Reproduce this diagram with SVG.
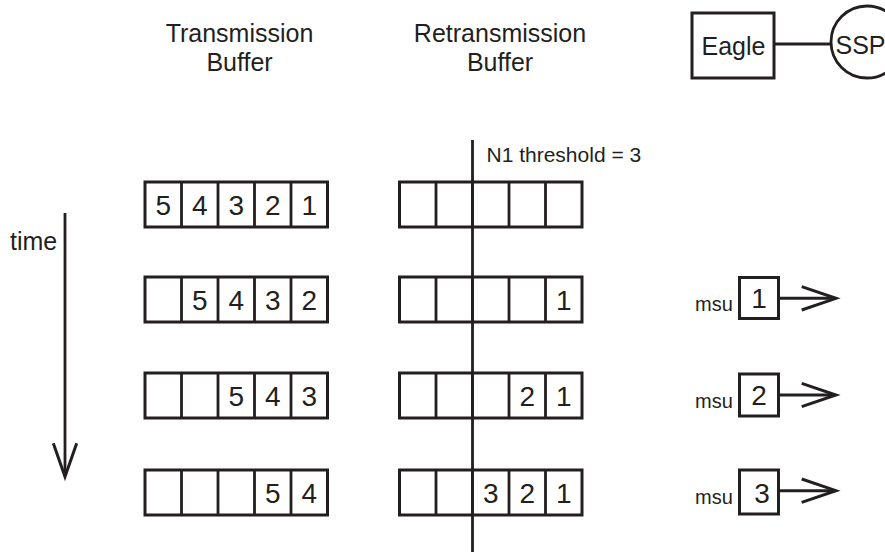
<svg xmlns="http://www.w3.org/2000/svg" width="885" height="552" viewBox="0 0 885 552">
<style>
text{font-family:"Liberation Sans",Arial,Helvetica,sans-serif;fill:#231f20}
.t{font-size:25px;text-anchor:middle}
.d{font-size:28px;text-anchor:middle}
.s{font-size:21px}
.m{font-size:20px}
.box{fill:#fff;stroke:#231f20;stroke-width:3}
.ln{fill:none;stroke:#231f20;stroke-width:2.8}
.ar{fill:none;stroke:#231f20;stroke-width:3;stroke-linejoin:miter}
</style>
<rect width="885" height="552" fill="#fff"/>
<defs>
<g id="buf">
<rect class="box" x="0" y="0" width="182.5" height="45"/>
<line class="ln" x1="36.5" y1="0" x2="36.5" y2="45"/>
<line class="ln" x1="73" y1="0" x2="73" y2="45"/>
<line class="ln" x1="109.5" y1="0" x2="109.5" y2="45"/>
<line class="ln" x1="146" y1="0" x2="146" y2="45"/>
</g>
</defs>

<g id="titles">
<text class="t"><tspan x="239.5" y="42">Transmission</tspan><tspan x="239.5" y="71">Buffer</tspan></text>
<text class="t"><tspan x="500" y="42">Retransmission</tspan><tspan x="500" y="71">Buffer</tspan></text>
</g>

<g id="eagle">
<rect class="box" x="692" y="13" width="82" height="65"/>
<text x="701.5" y="55" style="font-size:25px">Eagle</text>
</g>
<g id="ssp">
<circle cx="867" cy="42" r="36" fill="#fff" stroke="#231f20" stroke-width="2.8"/>
<text x="835.5" y="54" style="font-size:25px">SSP</text>
</g>

<g id="time">
<text x="10" y="250" style="font-size:25px">time</text>
</g>

<g id="tb1"><use href="#buf" x="145" y="182"/>
<text class="d" x="163.25" y="215">5</text><text class="d" x="199.75" y="215">4</text><text class="d" x="236.25" y="215">3</text><text class="d" x="272.75" y="215">2</text><text class="d" x="309.25" y="215">1</text></g>
<g id="tb2"><use href="#buf" x="145" y="277"/>
<text class="d" x="199.75" y="310">5</text><text class="d" x="236.25" y="310">4</text><text class="d" x="272.75" y="310">3</text><text class="d" x="309.25" y="310">2</text></g>
<g id="tb3"><use href="#buf" x="145" y="373"/>
<text class="d" x="236.25" y="406">5</text><text class="d" x="272.75" y="406">4</text><text class="d" x="309.25" y="406">3</text></g>
<g id="tb4"><use href="#buf" x="145" y="470"/>
<text class="d" x="272.75" y="503">5</text><text class="d" x="309.25" y="503">4</text></g>

<g id="rb1"><use href="#buf" x="399.5" y="182"/></g>
<g id="rb2"><use href="#buf" x="399.5" y="277"/>
<text class="d" x="563.75" y="310">1</text></g>
<g id="rb3"><use href="#buf" x="399.5" y="373"/>
<text class="d" x="527.25" y="406">2</text><text class="d" x="563.75" y="406">1</text></g>
<g id="rb4"><use href="#buf" x="399.5" y="470"/>
<text class="d" x="490.75" y="503">3</text><text class="d" x="527.25" y="503">2</text><text class="d" x="563.75" y="503">1</text></g>

<g id="threshold">
<text class="s" x="486.5" y="161.5">N1 threshold = 3</text>
</g>

<g id="msu1"><text class="m" x="695" y="311">msu</text>
<rect class="box" x="739.5" y="277.5" width="39" height="41"/>
<text class="d" x="759" y="308">1</text></g>
<g id="msu2"><text class="m" x="695" y="408">msu</text>
<rect class="box" x="739.5" y="374" width="39" height="42"/>
<text class="d" x="759" y="405">2</text></g>
<g id="msu3"><text class="m" x="695" y="503.5">msu</text>
<rect class="box" x="739.5" y="470" width="39" height="44"/>
<text class="d" x="762" y="502.5">3</text></g>

<g id="connectors">
<line class="ln" x1="774" y1="44" x2="831" y2="44"/>
<line class="ln" x1="472.5" y1="140" x2="472.5" y2="552"/>
<line class="ln" x1="65" y1="213" x2="65" y2="476"/>
<polyline class="ar" points="53.3,443.3 65,476.7 76.7,443.3"/>
<line class="ar" x1="778.5" y1="298.3" x2="835" y2="298.3"/>
<polyline class="ar" points="801.7,286.7 836,298.3 801.7,310"/>
<line class="ar" x1="778.5" y1="395" x2="835" y2="395"/>
<polyline class="ar" points="801.7,383.3 836,395 801.7,406.7"/>
<line class="ar" x1="778.5" y1="490.7" x2="835" y2="490.7"/>
<polyline class="ar" points="801.7,479 836,490.7 801.7,502.4"/>
</g>
</svg>
